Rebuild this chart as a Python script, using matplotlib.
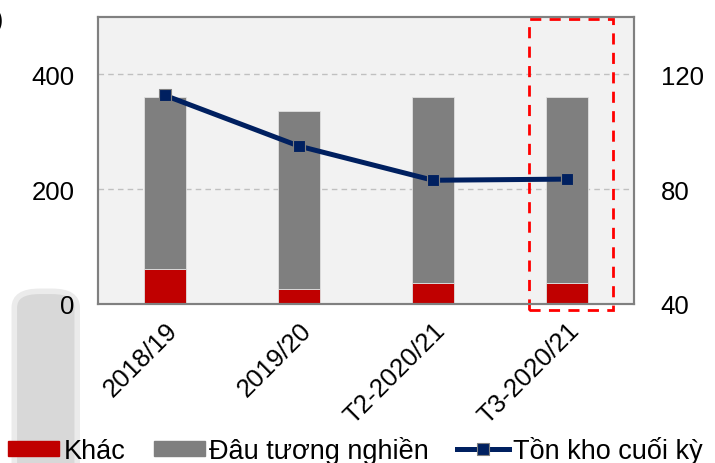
import matplotlib.pyplot as plt
from matplotlib.patches import Rectangle, FancyBboxPatch
from matplotlib.lines import Line2D
from matplotlib.patches import Patch

plt.rcParams['font.family'] = ['Liberation Sans', 'DejaVu Sans']

# data
seasons = ["2018/19", "2019/20", "T2-2020/21", "T3-2020/21"]
khac = [61, 26, 36, 36]
dau_tuong = [299, 310, 324, 324]
ton_kho = [112.7, 95, 83.1, 83.5]

fig = plt.figure(figsize=(7.15, 4.64), dpi=100)

# faded grey blob at lower left
blob = FancyBboxPatch((0.020, -0.08), 0.088, 0.45, boxstyle="round,pad=0.0,rounding_size=0.035",
                      transform=fig.transFigure, facecolor="#d8d8d8", edgecolor="#ebebeb",
                      linewidth=4, zorder=-5)
fig.patches.append(blob)

ax = fig.add_axes([0.137, 0.343, 0.750, 0.618])
ax.set_facecolor("#f2f2f2")
x = range(len(seasons))
w = 0.31
ax.bar(x, khac, w, color="#c00000", edgecolor="#e0e0e0", linewidth=0.6, zorder=2)
ax.bar(x, dau_tuong, w, bottom=khac, color="#7f7f7f", edgecolor="#e0e0e0", linewidth=0.6, zorder=2)
ax.set_ylim(0, 500)
ax.set_xlim(-0.5, 3.5)
ax.set_yticks([0, 200, 400])
ax.grid(axis="y", color="#c0c0c0", linestyle=(0, (4, 3)), linewidth=1, zorder=1)
ax.set_axisbelow(True)
ax.set_xticks(list(x))
ax.set_xticklabels(seasons, rotation=45, ha="right", rotation_mode="anchor")
ax.tick_params(length=0, labelsize=18.5, pad=17)
ax.tick_params(axis="x", pad=10)
for s in ax.spines.values():
    s.set_color("#808080")
    s.set_linewidth(1.5)

ax2 = ax.twinx()
ax2.plot(x, ton_kho, color="#002060", linewidth=3.6, marker="s", markersize=8.5,
         markeredgecolor="#808080", markeredgewidth=0.8, zorder=5)
ax2.set_ylim(40, 140)
ax2.set_yticks([40, 80, 120])
ax2.tick_params(length=0, labelsize=18.5, pad=19)
for s in ax2.spines.values():
    s.set_color("#808080")
    s.set_linewidth(1.5)

# highlight box around last season
ax.add_patch(Rectangle((2.716, -10.5), 0.627, 506.5, fill=False, edgecolor="#ff0000",
                       linewidth=2, linestyle=(0, (4, 3)), clip_on=False, zorder=6))

fig.text(0.004, 0.955, "(nghìn tấn)", ha="right", va="center", fontsize=18)

handles = [Patch(color="#c00000"), Patch(color="#7f7f7f"),
           Line2D([0], [0], color="#002060", linewidth=3.6, marker="s", markersize=8.5,
                  markeredgecolor="#808080", markeredgewidth=0.8)]
labels = ["Khác", "Đâu tương nghiền", "Tồn kho cuối kỳ"]
fig.legend(handles, labels, loc="center left", bbox_to_anchor=(0.011, 0.028), ncol=3, frameon=False,
           fontsize=19.5, handlelength=1.9, handleheight=0.5, handletextpad=0.15,
           columnspacing=1.05, borderpad=0, borderaxespad=0)

fig.savefig("out.png", dpi=100)
